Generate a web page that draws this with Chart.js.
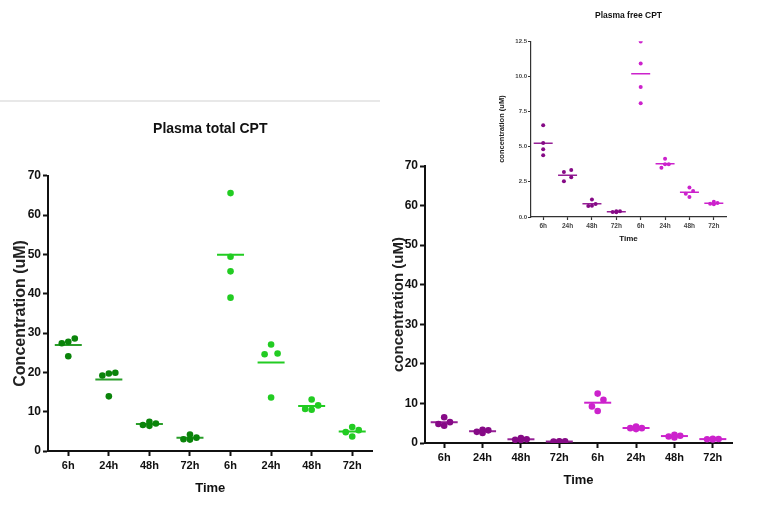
<!DOCTYPE html>
<html><head><meta charset="utf-8">
<script src="https://cdn.jsdelivr.net/npm/chart.js@4"></script>
<style>
body{margin:0;background:#fff;width:763px;height:513px;overflow:hidden;position:relative}
.box{position:absolute}
#rule{position:absolute;left:0;top:100px;width:380px;height:2px;background:#e8e8e8}
</style></head><body>
<div id="rule"></div>
<div class="box" style="left:0;top:100px"><canvas id="total" width="388" height="400" style="width:388px;height:400px"></canvas></div>
<div class="box" style="left:385px;top:140px"><canvas id="free" width="378" height="360" style="width:378px;height:360px"></canvas></div>
<div class="box" style="left:490px;top:0"><canvas id="inset" width="250" height="250" style="width:250px;height:250px"></canvas></div>
<script>
// ---- data ----
const timeLabels = ['6h','24h','48h','72h','6h','24h','48h','72h'];
// Plasma total CPT (uM), 4 animals per time point
const totalGroupA = [[27.8,27.4,28.6,24.1],[19.7,19.2,19.9,13.9],[7.0,6.4,7.4,6.6],[3.4,4.2,2.9,3.0]];
const totalGroupB = [[65.6,49.4,45.7,39.0],[27.1,24.8,24.6,13.6],[13.1,11.6,10.5,10.7],[5.3,6.1,4.8,3.7]];
// Plasma free CPT (uM)
const freeGroupA = [[6.52,5.27,4.82,4.39],[3.34,3.20,2.82,2.54],[1.25,0.92,0.80,0.78],[0.40,0.36,0.40,0.33]];
const freeGroupB = [[12.48,10.91,9.25,8.09],[4.15,3.75,3.75,3.51],[2.09,1.85,1.66,1.42],[1.09,1.00,0.95,0.90]];
const bigTicks = [0,10,20,30,40,50,60,70];
const insetTicks = [0,2.5,5,7.5,10,12.5];

const FONT = "'Liberation Sans',Arial,sans-serif";

// spread overlapping points sideways (diamond-like pattern, as in the original scatter)
const PATTERN = {1:[0], 2:[-1,1], 3:[-1,0,1], 4:[0,-1,1,0], 5:[0,-1,1,-2,2]};
function jitter(values, threshold, step){
  const idx = values.map((v,i)=>i).sort((a,b)=>values[a]-values[b]);
  const off = new Array(values.length).fill(0);
  let cl=[idx[0]];
  const flush=()=>{const p=PATTERN[cl.length]; cl.forEach((k,j)=>off[k]=p[j]*step);};
  for(let j=1;j<idx.length;j++){
    if(values[idx[j]]-values[idx[j-1]]<threshold) cl.push(idx[j]); else {flush(); cl=[idx[j]];}
  }
  flush();
  return off;
}
const mean = a => a.reduce((s,v)=>s+v,0)/a.length;

function build(id, o){
  const groups = o.groupA.concat(o.groupB);
  const ptsA=[], ptsB=[], mA=[], mB=[];
  groups.forEach((vals,gi)=>{
    const off = jitter(vals, o.thr, o.step);
    const pts = gi<4?ptsA:ptsB, ms = gi<4?mA:mB;
    vals.forEach((v,k)=>pts.push({x:gi+1+off[k], y:v}));
    ms.push({x:gi+1, y:mean(vals)});
  });
  const lineDs = (d,c)=>({data:d, pointStyle:'line', pointRadius:o.meanHalf, pointBorderWidth:o.meanW, pointBorderColor:c, pointBackgroundColor:c, showLine:false, order:2});
  const dotDs = (d,c)=>({data:d, pointStyle:'circle', pointRadius:o.r, pointBorderWidth:0, pointBackgroundColor:c, pointBorderColor:c, showLine:false, order:1});
  new Chart(document.getElementById(id), {
    type:'scatter',
    data:{datasets:[dotDs(ptsA,o.cA), dotDs(ptsB,o.cB), lineDs(mA,o.lA), lineDs(mB,o.lB)]},
    options:{
      responsive:false, animation:false, devicePixelRatio:1,
      layout:{padding:o.pad},
      plugins:{legend:{display:false}, tooltip:{enabled:false},
        title:{display:!!o.title, text:o.title||'', fullSize:false, color:'#111',
          font:{family:FONT, size:o.titleSize, weight:'bold'}, padding:o.titlePad}},
      scales:{
        x:{type:'linear', min:0.5, max:8.5,
          afterBuildTicks:s=>{s.ticks=timeLabels.map((_,i)=>({value:i+1}));},
          afterFit:s=>{s.height=o.xH;},
          ticks:{autoSkip:false, maxRotation:0, padding:o.xTickPad, color:o.tickColor,
            font:{family:FONT, size:o.xTickSize, weight:'bold'},
            callback:(v,i)=>timeLabels[i]},
          grid:{drawOnChartArea:false, drawTicks:true, tickLength:o.tickLen, tickColor:o.axisColor, tickWidth:o.axisW},
          border:{display:true, color:o.axisColor, width:o.axisW},
          title:{display:true, text:'Time', color:'#111', font:{family:FONT, size:o.xTitleSize, weight:'bold'}, padding:{top:0,bottom:o.xTitlePad}}
        },
        y:{min:0, max:o.yTicks[o.yTicks.length-1],
          afterBuildTicks:s=>{s.ticks=o.yTicks.map(v=>({value:v}));},
          afterFit:s=>{s.width=o.yW;},
          ticks:{padding:o.yTickPad, color:o.tickColor, font:{family:FONT, size:o.yTickSize, weight:'bold'},
            callback:v=>o.fmt(v)},
          grid:{drawOnChartArea:false, drawTicks:true, tickLength:o.tickLen, tickColor:o.axisColor, tickWidth:o.axisW},
          border:{display:true, color:o.axisColor, width:o.axisW},
          title:{display:true, text:o.yTitle, color:'#222', font:{family:FONT, size:o.yTitleSize, weight:'bold'}, padding:{top:o.yTitlePad,bottom:0}}
        }
      }
    }
  });
}

build('total', {groupA:totalGroupA, groupB:totalGroupB, cA:'#0a840a', cB:'#22cc22', lA:'#2a9e2a', lB:'#22cc22',
  thr:1.8, step:0.16, r:3.3, meanHalf:13.5, meanW:2,
  pad:{left:0,right:0,top:0,bottom:0}, title:'Plasma total CPT', titleSize:14, titlePad:{top:21,bottom:38},
  xH:49, yW:48, tickLen:5, axisW:2, axisColor:'#111', tickColor:'#111',
  xTickPad:3, xTickSize:11, xTitleSize:13, xTitlePad:4,
  yTicks:bigTicks, fmt:v=>String(v), yTickPad:2, yTickSize:12, yTitle:'Concentration (uM)', yTitleSize:16, yTitlePad:11});

build('free', {groupA:freeGroupA, groupB:freeGroupB, cA:'#860a86', cB:'#cc22cc', lA:'#962096', lB:'#cc22cc',
  thr:1.8, step:0.15, r:3.3, meanHalf:13.5, meanW:2,
  pad:{left:0,right:31,top:26,bottom:0}, title:'', titleSize:10, titlePad:0,
  xH:57, yW:40, tickLen:5, axisW:2, axisColor:'#111', tickColor:'#111',
  xTickPad:3, xTickSize:11, xTitleSize:13, xTitlePad:12,
  yTicks:bigTicks, fmt:v=>String(v), yTickPad:2, yTickSize:12, yTitle:'concentration (uM)', yTitleSize:15, yTitlePad:5});

build('inset', {groupA:freeGroupA, groupB:freeGroupB, cA:'#860a86', cB:'#cc22cc', lA:'#962096', lB:'#cc22cc',
  thr:0.3, step:0.15, r:2, meanHalf:9.5, meanW:1.5,
  pad:{left:0,right:14,top:0,bottom:0}, title:'Plasma free CPT', titleSize:8.5, titlePad:{top:11,bottom:20},
  xH:33, yW:41, tickLen:3, axisW:1.2, axisColor:'#333', tickColor:'#444',
  xTickPad:2, xTickSize:6.5, xTitleSize:8, xTitlePad:6,
  yTicks:insetTicks, fmt:v=>v.toFixed(1), yTickPad:1, yTickSize:6, yTitle:'concentration (uM)', yTitleSize:7.5, yTitlePad:7});
</script>
</body></html>
